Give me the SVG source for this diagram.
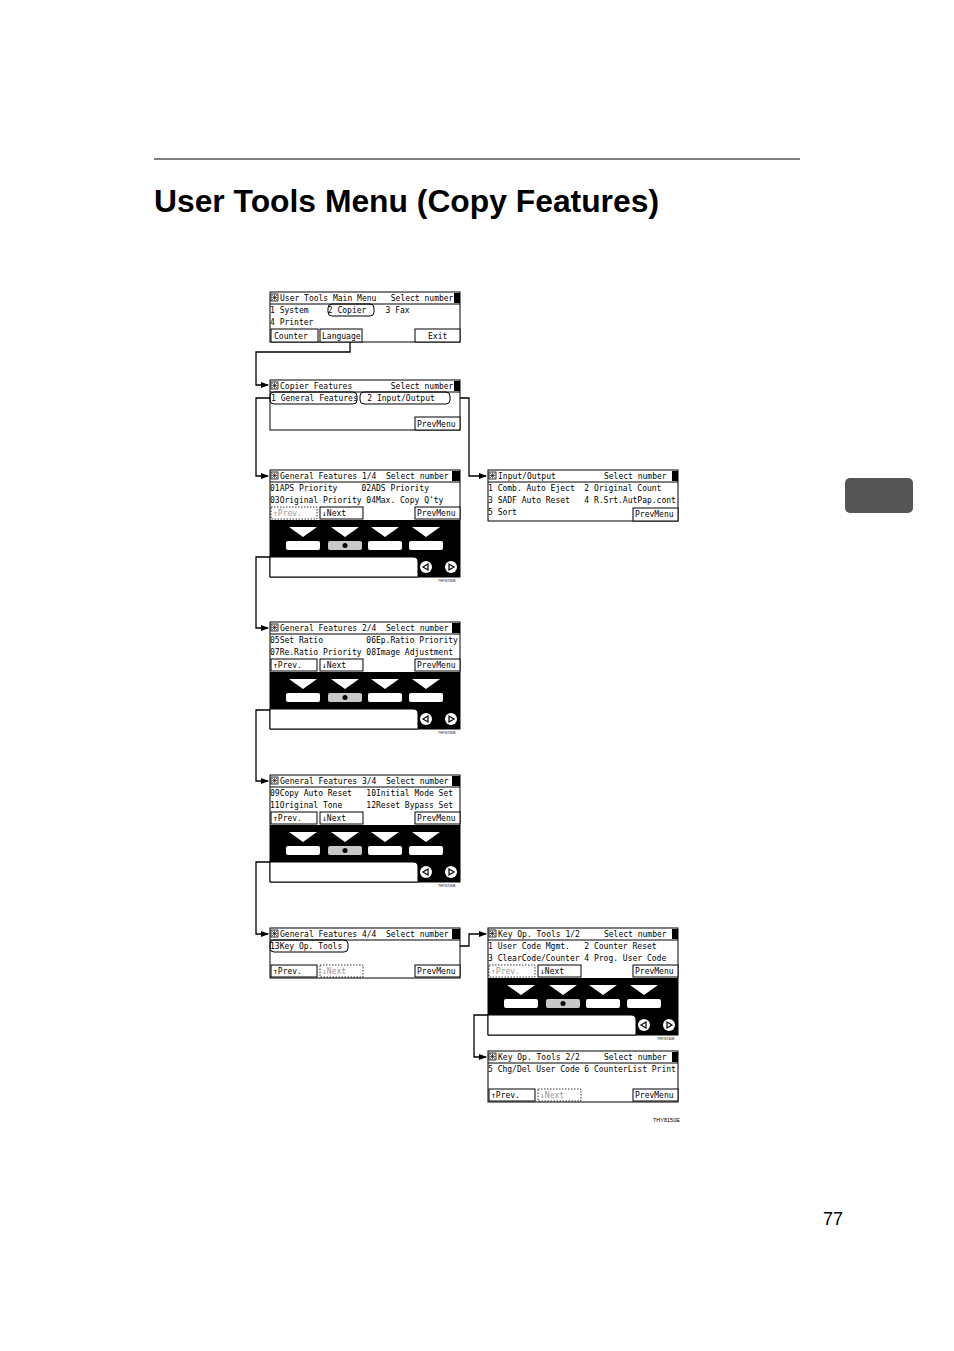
<svg xmlns="http://www.w3.org/2000/svg" width="954" height="1351" viewBox="0 0 954 1351">
<style>
.t{font-family:"DejaVu Sans Mono","Liberation Mono",monospace;font-size:8px;fill:#000;white-space:pre}
.s{fill:#fff;stroke:#000;stroke-width:1}
.c{fill:none;stroke:#000;stroke-width:1.3}
.d{fill:#fff;stroke:#000;stroke-width:0.8;stroke-dasharray:1.5 1.5}
.g{fill:#999}
</style>
<defs>
<marker id="ar" markerWidth="8" markerHeight="8" refX="7" refY="4" orient="auto" markerUnits="userSpaceOnUse"><path d="M0,1 L8,4 L0,7 Z" fill="#000"/></marker>
<g id="icon"><rect x="0" y="0" width="7" height="7" fill="#fff" stroke="#000" stroke-width="0.8"/><path d="M1,1 L6,6 M6,1 L1,6 M3.5,0.5 V6.5 M0.5,3.5 H6.5" stroke="#000" stroke-width="0.6"/></g>
<g id="pad">
<rect x="0" y="0" width="190" height="57" fill="#000"/>
<path d="M0,37 H143 Q148,37 148,42 V57 H0 Z" fill="#fff" stroke="#000"/>
<path d="M19,7 H47 L33,17 Z M61,7 H89 L75,17 Z M101,7 H129 L115,17 Z M142,7 H170 L156,17 Z" fill="#fff"/>
<rect x="16" y="21" width="34" height="9" rx="2" fill="#fff"/>
<rect x="58" y="21" width="34" height="9" rx="2" fill="#c8c8c8"/>
<rect x="98" y="21" width="34" height="9" rx="2" fill="#fff"/>
<rect x="139" y="21" width="34" height="9" rx="2" fill="#fff"/>
<circle cx="75" cy="25.5" r="2.5" fill="#000"/>
<circle cx="156" cy="47" r="6" fill="#fff"/><path d="M153,47 L158,44 L158,50 Z" fill="none" stroke="#000" stroke-width="1.2"/>
<circle cx="181" cy="47" r="6" fill="#fff"/><path d="M184,47 L179,44 L179,50 Z" fill="none" stroke="#000" stroke-width="1.2"/>
</g>
</defs>
<rect width="954" height="1351" fill="#fff"/>
<line x1="154" y1="159" x2="800" y2="159" stroke="#000" stroke-width="1"/>
<text x="154" y="212" font-family="Liberation Sans,Arial,sans-serif" font-weight="bold" font-size="31" textLength="505" lengthAdjust="spacingAndGlyphs">User Tools Menu (Copy Features)</text>
<rect x="845" y="478" width="68" height="35" rx="5" fill="#555"/>
<text x="823" y="1225" font-family="Liberation Sans,Arial,sans-serif" font-size="18">77</text>

<g id="connectors">
<polyline class="c" points="350,316 350,352 256,352 256,385 268,385" marker-end="url(#ar)"/>
<polyline class="c" points="270,398 256,398 256,476 268,476" marker-end="url(#ar)"/>
<polyline class="c" points="450,398 469,398 469,476 486,476" marker-end="url(#ar)"/>
<polyline class="c" points="345,545 345,557 256,557 256,628 268,628" marker-end="url(#ar)"/>
<polyline class="c" points="345,697 345,710 256,710 256,781 268,781" marker-end="url(#ar)"/>
<polyline class="c" points="345,850 345,862 256,862 256,934 268,934" marker-end="url(#ar)"/>
<polyline class="c" points="460,946 469,946 469,934 486,934" marker-end="url(#ar)"/>
<polyline class="c" points="562,1004 562,1015 474,1015 474,1057 486,1057" marker-end="url(#ar)"/>
</g>

<g id="main-menu">
<rect class="s" x="270" y="292" width="190" height="50"/>
<line x1="270" y1="304" x2="460" y2="304" stroke="#000"/>
<use href="#icon" x="271" y="294"/>
<rect x="454" y="293" width="6" height="10" fill="#000"/>
<text class="t" x="280" y="301">User Tools Main Menu   Select number</text>
<rect x="328" y="304" width="46" height="12" rx="4" fill="none" stroke="#000"/>
<text class="t" x="270" y="313">1 System    2 Copier    3 Fax</text>
<text class="t" x="270" y="325">4 Printer</text>
<rect class="s" x="271" y="329" width="47" height="13"/><text class="t" x="274" y="339">Counter</text>
<rect class="s" x="320" y="329" width="42" height="13"/><text class="t" x="322" y="339">Language</text>
<rect class="s" x="415" y="329" width="45" height="13"/><text class="t" x="428" y="339">Exit</text>
</g>

<g id="copier-features">
<rect class="s" x="270" y="380" width="190" height="50"/>
<line x1="270" y1="392" x2="460" y2="392" stroke="#000"/>
<use href="#icon" x="271" y="382"/>
<rect x="454" y="381" width="6" height="10" fill="#000"/>
<text class="t" x="280" y="389">Copier Features        Select number</text>
<rect x="270" y="392" width="87" height="12" rx="4" fill="none" stroke="#000"/>
<rect x="360" y="392" width="90" height="12" rx="4" fill="none" stroke="#000"/>
<text class="t" x="271" y="401">1 General Features  2 Input/Output</text>
<rect class="s" x="415" y="417" width="45" height="13"/><text class="t" x="417" y="427">PrevMenu</text>
</g>

<g id="gf1">
<rect class="s" x="270" y="470" width="190" height="107"/>
<line x1="270" y1="482" x2="460" y2="482" stroke="#000"/>
<use href="#icon" x="271" y="472"/>
<rect x="452" y="471" width="8" height="10" fill="#000"/>
<text class="t" x="280" y="479">General Features 1/4  Select number</text>
<text class="t" x="270" y="491">01APS Priority     02ADS Priority</text>
<text class="t" x="270" y="503">03Original Priority 04Max. Copy Q'ty</text>
<rect class="d" x="271" y="507" width="46" height="12"/><text class="t g" x="273" y="516">↑Prev.</text>
<rect class="s" x="320" y="507" width="43" height="12"/><text class="t" x="322" y="516">↓Next</text>
<rect class="s" x="415" y="507" width="45" height="12"/><text class="t" x="417" y="516">PrevMenu</text>
<use href="#pad" x="270" y="520"/>
<text x="438" y="582" font-family="Liberation Sans,sans-serif" font-size="3.5">THYS740E</text>
</g>

<g id="input-output">
<rect class="s" x="488" y="470" width="190" height="51"/>
<line x1="488" y1="482" x2="678" y2="482" stroke="#000"/>
<use href="#icon" x="489" y="472"/>
<rect x="672" y="471" width="6" height="10" fill="#000"/>
<text class="t" x="498" y="479">Input/Output          Select number</text>
<text class="t" x="488" y="491">1 Comb. Auto Eject  2 Original Count</text>
<text class="t" x="488" y="503">3 SADF Auto Reset   4 R.Srt.AutPap.cont</text>
<text class="t" x="488" y="515">5 Sort</text>
<rect class="s" x="633" y="508" width="45" height="13"/><text class="t" x="635" y="517">PrevMenu</text>
</g>

<g id="gf2">
<rect class="s" x="270" y="622" width="190" height="107"/>
<line x1="270" y1="634" x2="460" y2="634" stroke="#000"/>
<use href="#icon" x="271" y="624"/>
<rect x="452" y="623" width="8" height="10" fill="#000"/>
<text class="t" x="280" y="631">General Features 2/4  Select number</text>
<text class="t" x="270" y="643">05Set Ratio         06Ep.Ratio Priority</text>
<text class="t" x="270" y="655">07Re.Ratio Priority 08Image Adjustment</text>
<rect class="s" x="271" y="659" width="46" height="12"/><text class="t" x="273" y="668">↑Prev.</text>
<rect class="s" x="320" y="659" width="43" height="12"/><text class="t" x="322" y="668">↓Next</text>
<rect class="s" x="415" y="659" width="45" height="12"/><text class="t" x="417" y="668">PrevMenu</text>
<use href="#pad" x="270" y="672"/>
<text x="438" y="734" font-family="Liberation Sans,sans-serif" font-size="3.5">THYS740E</text>
</g>

<g id="gf3">
<rect class="s" x="270" y="775" width="190" height="107"/>
<line x1="270" y1="787" x2="460" y2="787" stroke="#000"/>
<use href="#icon" x="271" y="777"/>
<rect x="452" y="776" width="8" height="10" fill="#000"/>
<text class="t" x="280" y="784">General Features 3/4  Select number</text>
<text class="t" x="270" y="796">09Copy Auto Reset   10Initial Mode Set</text>
<text class="t" x="270" y="808">11Original Tone     12Reset Bypass Set</text>
<rect class="s" x="271" y="812" width="46" height="12"/><text class="t" x="273" y="821">↑Prev.</text>
<rect class="s" x="320" y="812" width="43" height="12"/><text class="t" x="322" y="821">↓Next</text>
<rect class="s" x="415" y="812" width="45" height="12"/><text class="t" x="417" y="821">PrevMenu</text>
<use href="#pad" x="270" y="825"/>
<text x="438" y="887" font-family="Liberation Sans,sans-serif" font-size="3.5">THYS740E</text>
</g>

<g id="gf4">
<rect class="s" x="270" y="928" width="190" height="50"/>
<line x1="270" y1="940" x2="460" y2="940" stroke="#000"/>
<use href="#icon" x="271" y="930"/>
<rect x="452" y="929" width="8" height="10" fill="#000"/>
<text class="t" x="280" y="937">General Features 4/4  Select number</text>
<rect x="270" y="940" width="78" height="12" rx="4" fill="none" stroke="#000"/>
<text class="t" x="270" y="949">13Key Op. Tools</text>
<rect class="s" x="271" y="965" width="46" height="12"/><text class="t" x="273" y="974">↑Prev.</text>
<rect class="d" x="320" y="965" width="43" height="12"/><text class="t g" x="322" y="974">↓Next</text>
<rect class="s" x="415" y="965" width="45" height="12"/><text class="t" x="417" y="974">PrevMenu</text>
</g>

<g id="keyop1">
<rect class="s" x="488" y="928" width="190" height="107"/>
<line x1="488" y1="940" x2="678" y2="940" stroke="#000"/>
<use href="#icon" x="489" y="930"/>
<rect x="672" y="929" width="6" height="10" fill="#000"/>
<text class="t" x="498" y="937">Key Op. Tools 1/2     Select number</text>
<text class="t" x="488" y="949">1 User Code Mgmt.   2 Counter Reset</text>
<text class="t" x="488" y="961">3 ClearCode/Counter 4 Prog. User Code</text>
<rect class="d" x="489" y="965" width="46" height="12"/><text class="t g" x="491" y="974">↑Prev.</text>
<rect class="s" x="538" y="965" width="43" height="12"/><text class="t" x="540" y="974">↓Next</text>
<rect class="s" x="633" y="965" width="45" height="12"/><text class="t" x="635" y="974">PrevMenu</text>
<use href="#pad" x="488" y="978"/>
<text x="657" y="1040" font-family="Liberation Sans,sans-serif" font-size="3.5">THYS740E</text>
</g>

<g id="keyop2">
<rect class="s" x="488" y="1051" width="190" height="51"/>
<line x1="488" y1="1063" x2="678" y2="1063" stroke="#000"/>
<use href="#icon" x="489" y="1053"/>
<rect x="672" y="1052" width="6" height="10" fill="#000"/>
<text class="t" x="498" y="1060">Key Op. Tools 2/2     Select number</text>
<text class="t" x="488" y="1072">5 Chg/Del User Code 6 CounterList Print</text>
<rect class="s" x="489" y="1089" width="46" height="12"/><text class="t" x="491" y="1098">↑Prev.</text>
<rect class="d" x="538" y="1089" width="43" height="12"/><text class="t g" x="540" y="1098">↓Next</text>
<rect class="s" x="633" y="1089" width="45" height="12"/><text class="t" x="635" y="1098">PrevMenu</text>
<text x="653" y="1122" font-family="Liberation Sans,sans-serif" font-size="5.5">THY8150E</text>
</g>
</svg>
